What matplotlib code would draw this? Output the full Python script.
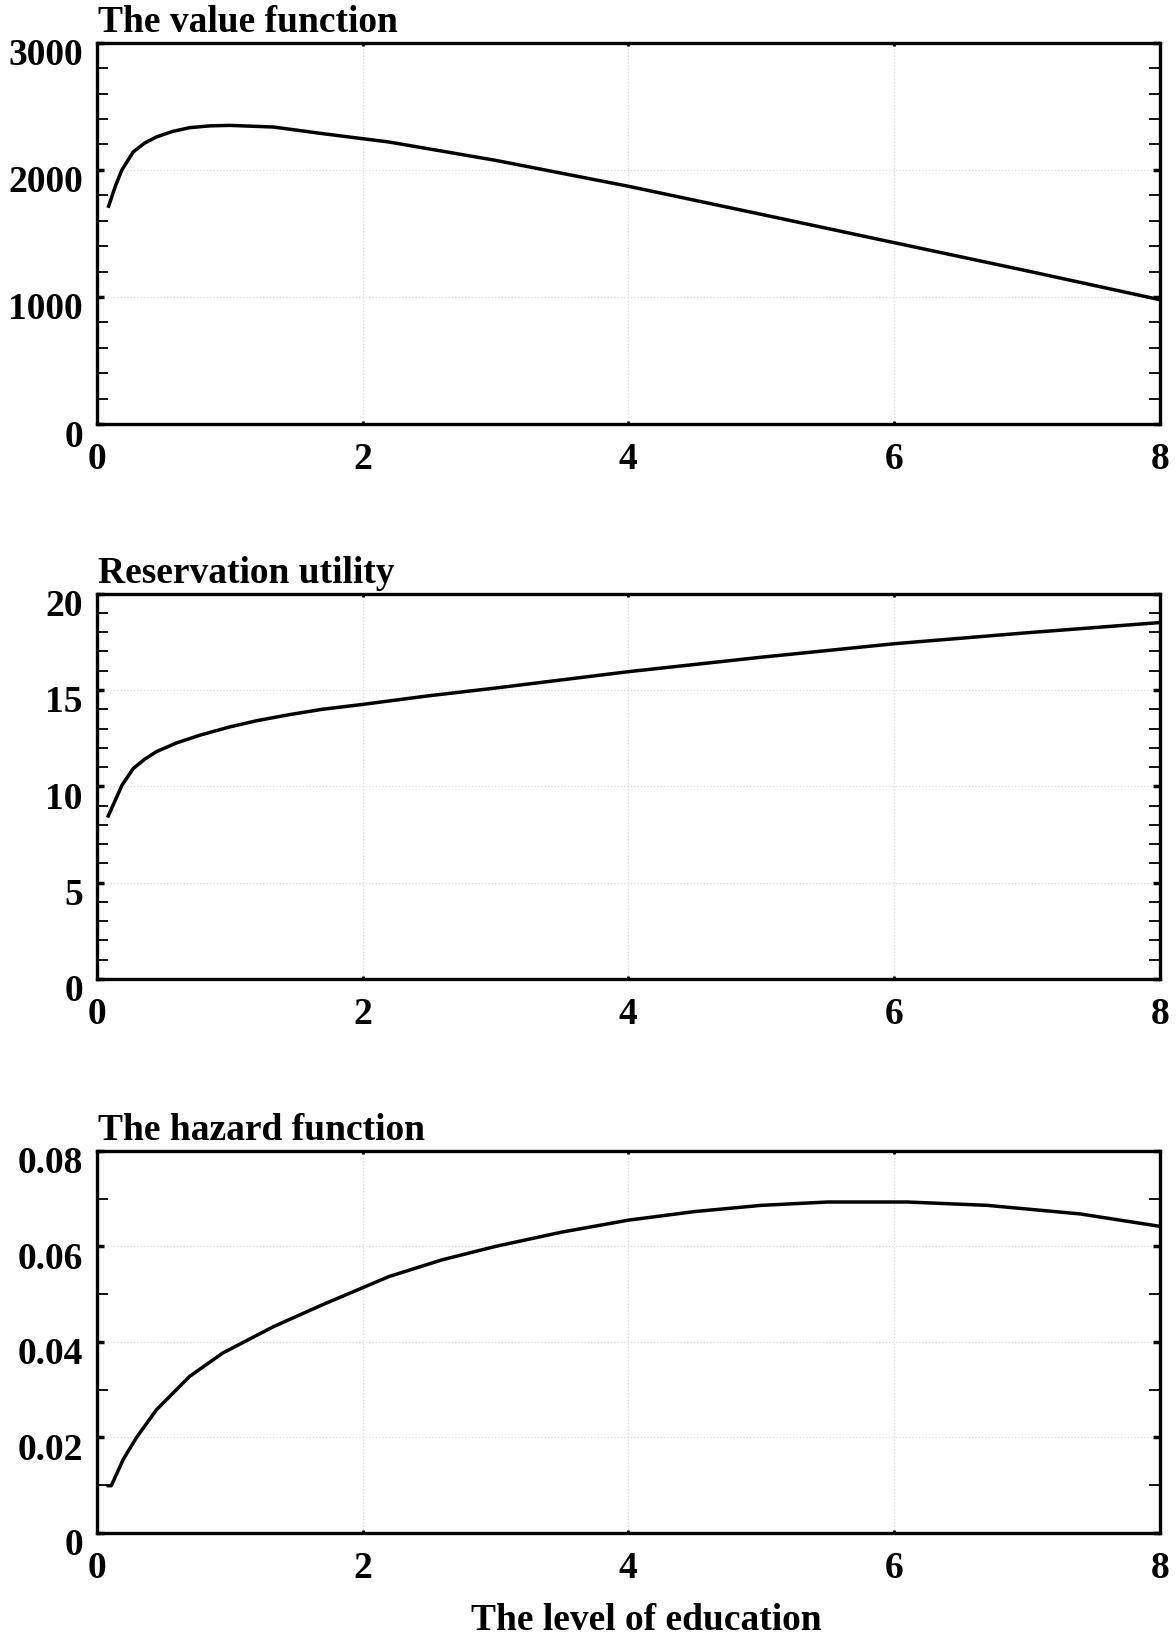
import matplotlib
matplotlib.use("Agg")
import matplotlib.pyplot as plt
from matplotlib.ticker import MultipleLocator
from matplotlib.transforms import ScaledTranslation

plt.rcParams["font.family"] = ["Liberation Serif", "DejaVu Serif"]
plt.rcParams["font.weight"] = "bold"

# values
edu_value = [0.09, 0.14, 0.19, 0.275, 0.36, 0.45, 0.57, 0.70, 0.85, 1.0, 1.33, 1.70, 2.2, 3.0, 4.0, 5.0, 6.0, 7.0, 8.0]
value_fn = [1714, 1870, 2000, 2141, 2210, 2259, 2302, 2332, 2346, 2350, 2337, 2285, 2219, 2075, 1871, 1650, 1427, 1205, 978]

edu_res = [0.087, 0.19, 0.275, 0.36, 0.45, 0.6, 0.78, 1.0, 1.2, 1.45, 1.70, 2.0, 2.5, 3.0, 4.0, 5.0, 6.0, 7.0, 8.0]
res_utility = [8.46, 10.05, 10.92, 11.4, 11.8, 12.25, 12.66, 13.08, 13.4, 13.72, 14.0, 14.25, 14.7, 15.1, 15.95, 16.7, 17.4, 17.97, 18.5]

edu_haz = [0.087, 0.11, 0.20, 0.30, 0.45, 0.70, 0.95, 1.33, 1.70, 2.2, 2.6, 3.0, 3.5, 4.0, 4.5, 5.0,
           5.5, 6.1, 6.7, 7.4, 8.0]
hazard = [0.0099, 0.0099, 0.0154, 0.0200, 0.0258, 0.0328, 0.0377, 0.0432, 0.0478, 0.0537, 0.0572,
          0.0600, 0.0630, 0.0655, 0.0673, 0.0686, 0.0693, 0.0693, 0.0686, 0.0668, 0.0642]

titles = ["The value function", "Reservation utility", "The hazard function"]
y_limits = [(0, 3000), (0, 20), (0, 0.08)]
y_ticks = [[0, 1000, 2000, 3000], [0, 5, 10, 15, 20], [0, 0.02, 0.04, 0.06, 0.08]]
y_minor = [200, 1, 0.01]
y_labels = [["0", "1000", "2000", "3000"],
            ["0", "5", "10", "15", "20"],
            ["0", "0.02", "0.04", "0.06", "0.08"]]
x_ticks = [0, 2, 4, 6, 8]

fig = plt.figure(figsize=(11.76, 16.39), dpi=100)
rects = [[0.0822, 0.7413, 0.9042, 0.2326],
         [0.0822, 0.4027, 0.9042, 0.2351],
         [0.0822, 0.0647, 0.9042, 0.2331]]
series = [(edu_value, value_fn), (edu_res, res_utility), (edu_haz, hazard)]
fs = 27

for i, rect in enumerate(rects):
    ax = fig.add_axes(rect)
    x, y = series[i]
    ax.plot(x, y, color="black", lw=2.5, solid_joinstyle="round")
    ax.set_xlim(0, 8)
    ax.set_ylim(*y_limits[i])
    ax.set_xticks(x_ticks)
    ax.set_xticklabels([str(t) for t in x_ticks], fontsize=fs, fontweight="bold")
    ax.set_yticks(y_ticks[i])
    ax.yaxis.set_minor_locator(MultipleLocator(y_minor[i]))
    ax.set_yticklabels(y_labels[i], fontsize=fs, fontweight="bold")
    ax.grid(True, which="major", color="#d9d9d9", linestyle=":", lw=0.9)
    for s in ax.spines.values():
        s.set_linewidth(2.4)
    ax.tick_params(axis="y", which="major", direction="in", left=True, right=True,
                   length=5, width=2.5, pad=10)
    ax.tick_params(axis="y", which="minor", direction="in", left=True, right=True,
                   length=8, width=1.3)
    ax.tick_params(axis="x", which="major", direction="in", top=True, bottom=True,
                   length=2, width=2, pad=13)
    # labels sit a little lower than their ticks in the original
    shift = ScaledTranslation(0, -9 / 100, fig.dpi_scale_trans)
    for lab in ax.get_yticklabels():
        lab.set_transform(lab.get_transform() + shift)
    ax.annotate(titles[i], xy=(0, 1), xycoords="axes fraction", xytext=(1, 8),
                textcoords="offset points", va="baseline", ha="left",
                fontsize=fs, fontweight="bold")

fig.text(646 / 1176, 1 - 1620 / 1639, "The level of education", ha="center", va="center",
         fontsize=fs, fontweight="bold")

fig.savefig("out.png", dpi=100)
